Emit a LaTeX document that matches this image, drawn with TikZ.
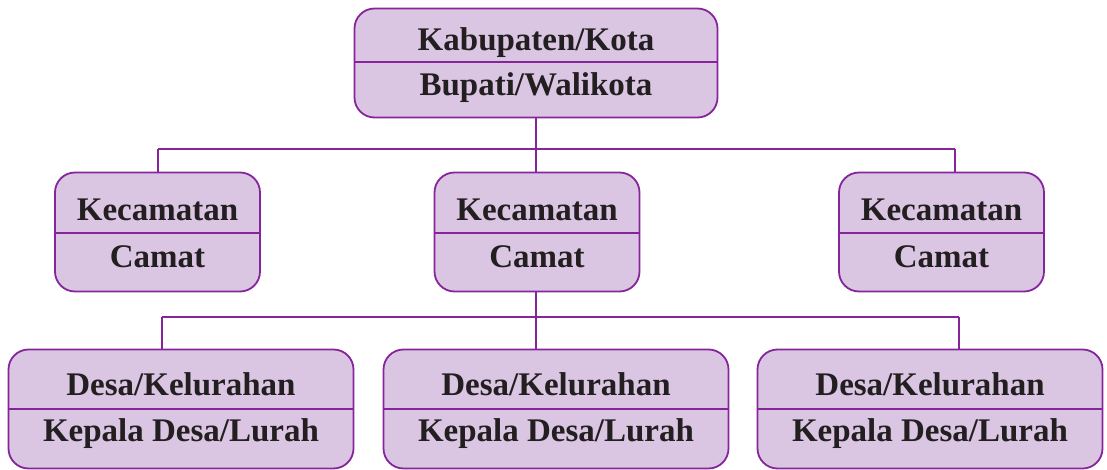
\documentclass[tikz,border=0pt]{standalone}
\usepackage{fontspec}
\setmainfont{Liberation Serif}
\definecolor{boxfill}{HTML}{DAC6E3}
\definecolor{boxline}{HTML}{86259A}
\definecolor{txt}{HTML}{231F20}
\tikzset{
  orgbox/.style={draw=boxline, fill=boxfill, line width=1.8pt, rounded corners=20pt, inner sep=0pt},
  lvlone/.style={orgbox, minimum width=363pt, minimum height=109pt},
  lvltwo/.style={orgbox, minimum width=205pt, minimum height=119pt},
  lvlthree/.style={orgbox, minimum width=345pt, minimum height=119pt},
  lbl/.style={text=txt, font=\fontsize{33}{36}\selectfont\bfseries, inner sep=0pt, anchor=base},
  divider/.style={draw=boxline, line width=1.5pt},
  conn/.style={draw=boxline, line width=1.7pt}
}
\begin{document}
\begin{tikzpicture}[x=1pt, y=-1pt]
\useasboundingbox (0,0) rectangle (1107,470);
% top
\node[lvlone] (top) at (536,63) {};
\draw[divider] (top.west |- 0,62) -- (top.east |- 0,62);
\node[lbl] (topa) at (536,51) {Kabupaten/Kota};
\node[lbl] (topb) at (536,96) {Bupati/Walikota};
% level 2
\foreach \n/\x in {ka/157.5, kb/537, kc/941.5}{
  \node[lvltwo] (\n) at (\x,232) {};
  \draw[divider] (\n.west |- 0,233) -- (\n.east |- 0,233);
  \node[lbl] (\n t) at (\x,221) {Kecamatan};
  \node[lbl] (\n b) at (\x,267) {Camat};
}
% level 3
\foreach \n/\x in {da/181, db/556, dc/930}{
  \node[lvlthree] (\n) at (\x,409) {};
  \draw[divider] (\n.west |- 0,409) -- (\n.east |- 0,409);
  \node[lbl] (\n t) at (\x,395) {Desa/Kelurahan};
  \node[lbl] (\n b) at (\x,441) {Kepala Desa/Lurah};
}
% connectors
\coordinate (j1) at (536,149);
\coordinate (j1l) at (158,149);
\coordinate (j1r) at (955,149);
\draw[conn] (top.south) -- (j1);
\draw[conn] (j1l) -- (j1r);
\draw[conn] (j1l) -- (j1l |- ka.north);
\draw[conn] (j1r) -- (j1r |- kc.north);
\draw[conn] (j1) -- (j1 |- kb.north);
\coordinate (j2) at (536,317);
\coordinate (j2l) at (162,317);
\coordinate (j2r) at (959,317);
\draw[conn] (j2 |- kb.south) -- (j2);
\draw[conn] (j2l) -- (j2r);
\draw[conn] (j2l) -- (j2l |- da.north);
\draw[conn] (j2r) -- (j2r |- dc.north);
\draw[conn] (j2) -- (j2 |- db.north);
\end{tikzpicture}
\end{document}
